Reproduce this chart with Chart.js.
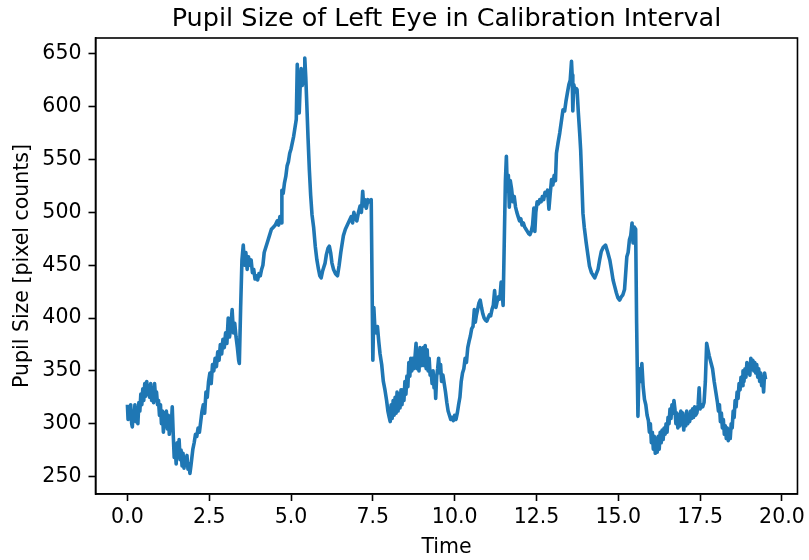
<!DOCTYPE html>
<html>
<head>
<meta charset="utf-8">
<script src="https://cdn.jsdelivr.net/npm/chart.js@4/dist/chart.umd.min.js"></script>
<style>
html,body{margin:0;padding:0;background:#fff;}
#wrap{width:809px;height:560px;}
</style>
</head>
<body>
<div id="wrap"><canvas id="c" width="809" height="560"></canvas></div>
<script>
const chartTitle = "Pupil Size of Left Eye in Calibration Interval";
const xAxisLabel = "Time";
const yAxisLabel = "Pupil Size [pixel counts]";
const xTickValues = [0, 2.5, 5, 7.5, 10, 12.5, 15, 17.5, 20];
const yTickValues = [250, 300, 350, 400, 450, 500, 550, 600, 650];

const timeSec = [
0.00,0.02,0.05,0.08,0.10,0.13,0.15,0.18,0.20,0.23,
0.26,0.29,0.32,0.35,0.38,0.41,0.44,0.47,0.50,0.53,
0.56,0.59,0.62,0.65,0.68,0.71,0.74,0.77,0.80,0.83,
0.86,0.89,0.92,0.95,0.98,1.01,1.04,1.07,1.10,1.13,
1.16,1.19,1.22,1.25,1.28,1.31,1.34,1.37,1.40,1.43,
1.46,1.49,1.52,1.55,1.58,1.61,1.64,1.67,1.70,1.73,
1.76,1.79,1.82,1.85,1.88,1.91,1.94,1.97,2.00,2.04,
2.08,2.12,2.16,2.20,2.24,2.28,2.32,2.36,2.40,2.44,
2.48,2.52,2.56,2.60,2.64,2.68,2.72,2.76,2.80,2.84,
2.88,2.92,2.96,3.00,3.04,3.08,3.12,3.16,3.20,3.24,
3.28,3.32,3.36,3.40,3.42,3.46,3.50,3.54,3.58,3.62,
3.66,3.70,3.74,3.78,3.82,3.86,3.90,3.94,3.98,4.02,
4.06,4.10,4.14,4.18,4.22,4.28,4.34,4.40,4.46,4.52,
4.58,4.62,4.66,4.70,4.72,4.76,4.80,4.84,4.88,4.92,
4.96,5.00,5.04,5.08,5.12,5.16,5.19,5.22,5.25,5.28,
5.31,5.34,5.37,5.40,5.42,5.45,5.48,5.52,5.56,5.60,
5.64,5.69,5.74,5.79,5.84,5.88,5.92,5.96,6.00,6.04,
6.08,6.13,6.17,6.21,6.25,6.30,6.36,6.42,6.47,6.52,
6.56,6.60,6.66,6.72,6.78,6.84,6.88,6.92,6.96,7.01,
7.06,7.11,7.15,7.19,7.22,7.26,7.30,7.35,7.40,7.45,
7.50,7.53,7.56,7.60,7.64,7.68,7.72,7.77,7.82,7.87,
7.92,7.96,8.00,8.03,8.06,8.09,8.12,8.15,8.18,8.21,
8.24,8.27,8.30,8.33,8.36,8.39,8.42,8.45,8.48,8.51,
8.54,8.57,8.60,8.63,8.66,8.69,8.72,8.75,8.78,8.82,
8.85,8.88,8.91,8.94,8.97,9.00,9.04,9.07,9.10,9.13,
9.16,9.19,9.22,9.25,9.28,9.31,9.34,9.37,9.40,9.42,
9.45,9.48,9.51,9.54,9.57,9.60,9.64,9.68,9.72,9.76,
9.80,9.84,9.88,9.92,9.96,10.00,10.04,10.08,10.12,10.16,
10.20,10.24,10.28,10.32,10.36,10.40,10.44,10.48,10.52,10.56,
10.60,10.63,10.66,10.70,10.74,10.78,10.82,10.86,10.90,10.94,
10.98,11.02,11.06,11.10,11.14,11.18,11.22,11.26,11.30,11.34,
11.38,11.42,11.46,11.48,11.52,11.55,11.58,11.61,11.64,11.67,
11.70,11.74,11.78,11.82,11.86,11.90,11.94,11.98,12.02,12.06,
12.10,12.14,12.18,12.22,12.26,12.30,12.34,12.38,12.42,12.45,
12.48,12.52,12.56,12.60,12.64,12.68,12.72,12.76,12.80,12.84,
12.88,12.92,12.96,13.00,13.04,13.08,13.11,13.16,13.21,13.26,
13.31,13.36,13.40,13.45,13.49,13.53,13.57,13.59,13.61,13.64,
13.68,13.72,13.74,13.78,13.82,13.85,13.89,13.92,13.96,14.02,
14.07,14.12,14.18,14.24,14.28,14.33,14.38,14.43,14.48,14.54,
14.61,14.67,14.74,14.79,14.84,14.89,14.94,14.99,15.04,15.09,
15.14,15.19,15.22,15.26,15.30,15.34,15.38,15.42,15.45,15.49,
15.53,15.56,15.60,15.63,15.66,15.69,15.72,15.76,15.80,15.84,
15.88,15.92,15.95,15.98,16.01,16.04,16.07,16.10,16.13,16.16,
16.19,16.22,16.25,16.28,16.31,16.34,16.37,16.40,16.43,16.46,
16.49,16.52,16.55,16.58,16.61,16.64,16.67,16.70,16.73,16.76,
16.79,16.82,16.85,16.88,16.91,16.94,16.97,17.00,17.03,17.06,
17.09,17.12,17.15,17.18,17.21,17.24,17.27,17.30,17.33,17.36,
17.40,17.44,17.47,17.50,17.54,17.58,17.62,17.66,17.70,17.74,
17.78,17.83,17.88,17.93,17.98,18.03,18.06,18.09,18.12,18.15,
18.18,18.21,18.24,18.27,18.30,18.33,18.36,18.39,18.42,18.45,
18.48,18.51,18.54,18.57,18.60,18.63,18.66,18.69,18.72,18.75,
18.78,18.81,18.84,18.87,18.90,18.93,18.96,18.99,19.02,19.05,
19.08,19.11,19.14,19.17,19.20,19.23,19.26,19.29,19.32,19.35,
19.38,19.41,19.44,19.47,19.50
];

const pupilSize = [
318,304,316,310,318,300,297,312,305,318,
302,315,300,320,312,328,318,333,322,338,
326,340,328,336,325,338,322,333,320,338,
325,330,318,322,308,318,300,312,292,310,
298,312,295,308,290,302,298,316,290,268,
278,262,282,270,285,266,275,260,272,258,
268,262,270,257,262,253,260,268,276,282,
290,288,296,292,302,312,318,310,330,325,
340,348,338,356,350,362,354,368,360,375,
366,380,372,386,376,400,382,392,408,386,
395,382,372,360,357,410,455,469,450,462,
446,458,450,455,443,446,437,440,436,442,
440,446,450,462,466,472,478,484,486,488,
492,488,496,490,521,518,528,534,544,548,
556,560,566,572,580,588,640,610,594,620,
636,620,632,622,646,628,604,570,540,516,
498,486,468,455,446,440,438,444,448,452,
460,466,468,462,452,446,442,440,450,462,
470,478,484,488,492,496,490,500,495,492,
500,506,500,520,506,512,504,512,510,512,
360,410,392,386,392,378,366,356,340,332,
322,312,306,302,318,305,322,308,325,310,
330,312,328,315,332,318,330,322,340,328,
345,335,358,345,362,350,362,352,360,376,
352,368,350,372,360,355,372,355,374,352,
370,350,362,346,350,338,350,334,340,324,
345,352,362,348,356,340,346,338,330,320,
312,308,304,306,303,308,304,310,318,325,
340,348,352,362,358,372,378,383,390,392,
408,396,402,408,414,417,410,404,400,398,
397,400,403,402,408,412,426,410,416,420,
418,434,420,412,480,530,553,520,535,505,
530,522,510,515,505,500,496,492,494,488,
490,486,484,482,480,479,482,488,504,482,
500,510,508,512,510,515,512,519,516,521,
503,518,531,526,535,530,556,566,575,586,
597,596,605,614,621,625,643,630,596,621,
614,617,616,594,575,559,525,499,486,471,
460,449,443,440,438,442,446,455,463,467,
469,463,455,446,436,430,424,419,417,420,
422,427,440,458,462,474,478,490,471,486,
484,395,307,348,352,340,357,335,323,318,
308,303,292,300,282,292,276,288,272,286,
273,288,276,292,282,294,285,296,290,300,
292,306,300,314,305,318,310,322,314,300,
310,296,308,298,312,300,310,294,305,298,
312,300,308,302,312,305,314,306,316,308,
310,318,334,314,318,316,320,340,376,370,
364,358,352,340,330,320,312,318,302,310,
296,304,290,298,286,296,284,292,286,300,
296,312,306,322,316,330,324,338,332,344,
336,350,340,352,344,358,348,356,346,362,
352,360,350,358,348,356,344,352,340,348,
336,344,330,348,342
];

const lineColor = "#1f77b4";
const FONT = '"DejaVu Sans", sans-serif';

const points = timeSec.map((t, i) => ({ x: t, y: pupilSize[i] }));

const framePlugin = {
  id: 'frameAndTitle',
  afterDraw(chart) {
    const { ctx, chartArea: a } = chart;
    ctx.save();
    ctx.strokeStyle = '#000';
    ctx.lineWidth = 1.6;
    ctx.strokeRect(a.left, a.top, a.right - a.left, a.bottom - a.top);
    ctx.fillStyle = '#000';
    ctx.font = '25.5px ' + FONT;
    ctx.textAlign = 'center';
    ctx.textBaseline = 'alphabetic';
    ctx.fillText(chartTitle, (a.left + a.right) / 2, a.top - 12);
    ctx.restore();
  }
};

new Chart(document.getElementById('c'), {
  type: 'line',
  data: {
    datasets: [{
      data: points,
      borderColor: lineColor,
      borderWidth: 3.6,
      borderJoinStyle: 'round',
      borderCapStyle: 'butt',
      pointRadius: 0,
      tension: 0,
      fill: false
    }]
  },
  options: {
    responsive: false,
    animation: false,
    devicePixelRatio: 1,
    layout: { padding: { top: 38, right: 11, left: 0, bottom: 0 } },
    plugins: { legend: { display: false }, tooltip: { enabled: false }, title: { display: false } },
    scales: {
      x: {
        type: 'linear',
        min: -0.975,
        max: 20.475,
        afterBuildTicks: (s) => { s.ticks = xTickValues.map(v => ({ value: v })); },
        afterFit: (s) => { s.height = 66; },
        ticks: { font: { family: FONT, size: 20.5 }, color: '#000', padding: 4, maxRotation: 0,
                 callback: (v) => Number(v).toFixed(1) },
        grid: { drawOnChartArea: false, drawTicks: true, tickLength: 7, tickWidth: 1.6, tickColor: '#000' },
        border: { color: '#000', width: 1.6 },
        title: { display: true, text: xAxisLabel, font: { family: FONT, size: 20.5 }, color: '#000', padding: { top: 0, bottom: 0 } }
      },
      y: {
        type: 'linear',
        min: 233.5,
        max: 665,
        afterBuildTicks: (s) => { s.ticks = yTickValues.map(v => ({ value: v })); },
        afterFit: (s) => { s.width = 95.5; },
        ticks: { font: { family: FONT, size: 20.5 }, color: '#000', padding: 7,
                 callback: (v) => String(v) },
        grid: { drawOnChartArea: false, drawTicks: true, tickLength: 7, tickWidth: 1.6, tickColor: '#000' },
        border: { color: '#000', width: 1.6 },
        title: { display: true, text: yAxisLabel, font: { family: FONT, size: 20.5 }, color: '#000', padding: { top: 10, bottom: 0 } }
      }
    }
  },
  plugins: [framePlugin]
});
</script>
</body>
</html>
